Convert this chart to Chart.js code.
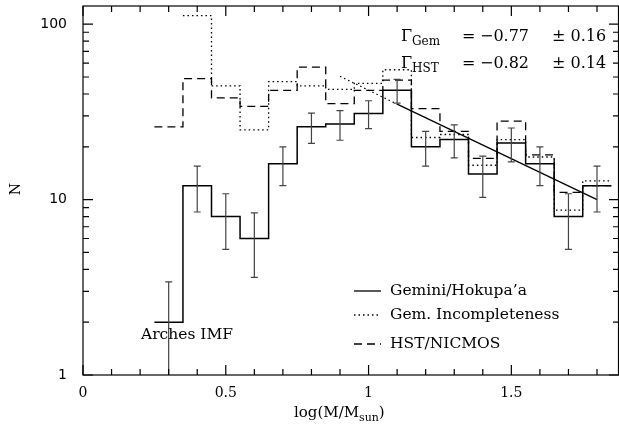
<!DOCTYPE html>
<html>
<head>
<meta charset="utf-8">
<script src="https://cdn.jsdelivr.net/npm/chart.js@4.4.1/dist/chart.umd.min.js"></script>
<style>
  html, body { margin: 0; padding: 0; background: #fff; }
  #wrap { width: 619px; height: 427px; }
</style>
</head>
<body>
<div id="wrap"><canvas id="imfChart" width="619" height="427"></canvas></div>
<script>
// histogram bins, log(M/Msun)
const binCenters = [0.3, 0.4, 0.5, 0.6, 0.7, 0.8, 0.9, 1.0, 1.1, 1.2, 1.3, 1.4, 1.5, 1.6, 1.7, 1.8];
const binWidth = 0.1;

// counts per bin
const gemini = [2, 12, 8, 6, 16, 26, 27, 31, 42, 20, 22, 14, 21, 16, 8, 12];
const geminiErr = [1.4, 3.5, 2.8, 2.4, 4.0, 5.1, 5.2, 5.6, 6.5, 4.5, 4.7, 3.7, 4.6, 4.0, 2.8, 3.5];
const incompleteness = [null, 112, 44.5, 25, 47, 44.5, 42.5, 46, 55, 22.6, 23.5, 15.7, 22, 17.5, 8.7, 12.8];
const hst = [26, 49, 38, 34, 42, 57, 35.3, 42, 48, 33, 24.5, 17.2, 28, 18, 11, 12];

// power-law fit
const fitX = [1.1, 1.8];
const fitY = [35, 10];
const fitExtX = [0.9, 1.1];
const fitExtY = [50.5, 35];

const xTicks = [0, 0.1, 0.2, 0.3, 0.4, 0.5, 0.6, 0.7, 0.8, 0.9, 1.0, 1.1, 1.2, 1.3, 1.4, 1.5, 1.6, 1.7, 1.8];
const xLabels = [0, 0.5, 1, 1.5];
const yTicks = [1, 2, 3, 4, 5, 6, 7, 8, 9, 10, 20, 30, 40, 50, 60, 70, 80, 90, 100];
const yLabels = [1, 10, 100];

const serif = '"DejaVu Serif", "Liberation Serif", serif';

function stepPoints(values) {
  const pts = [];
  let last = -1;
  values.forEach((v, i) => {
    if (v === null) return;
    pts.push({ x: +(binCenters[i] - binWidth / 2).toFixed(3), y: v });
    last = i;
  });
  pts.push({ x: +(binCenters[last] + binWidth / 2).toFixed(3), y: values[last] });
  return pts;
}

function isLabel(list, v) {
  return list.some(l => Math.abs(l - v) < 1e-6);
}

const decor = {
  id: 'decor',
  afterDatasetsDraw(chart) {
    const { ctx, chartArea: a, scales: { x, y } } = chart;
    ctx.save();

    // error bars
    ctx.strokeStyle = '#444';
    ctx.lineWidth = 1.2;
    binCenters.forEach((c, i) => {
      const px = x.getPixelForValue(c);
      const hi = y.getPixelForValue(gemini[i] + geminiErr[i]);
      const loVal = gemini[i] - geminiErr[i];
      const lo = loVal > y.min ? y.getPixelForValue(loVal) : a.bottom;
      ctx.beginPath();
      ctx.moveTo(px, hi); ctx.lineTo(px, lo);
      ctx.moveTo(px - 3.5, hi); ctx.lineTo(px + 3.5, hi);
      if (loVal > y.min) { ctx.moveTo(px - 3.5, lo); ctx.lineTo(px + 3.5, lo); }
      ctx.stroke();
    });

    // frame and inward ticks
    ctx.strokeStyle = '#000';
    ctx.lineWidth = 1.2;
    ctx.strokeRect(a.left, a.top, a.right - a.left - 0.5, a.bottom - a.top);
    ctx.beginPath();
    x.ticks.forEach(t => {
      const px = x.getPixelForValue(t.value);
      const len = isLabel(xLabels, t.value) ? 10 : 6;
      ctx.moveTo(px, a.bottom); ctx.lineTo(px, a.bottom - len);
      ctx.moveTo(px, a.top); ctx.lineTo(px, a.top + len);
    });
    y.ticks.forEach(t => {
      const py = y.getPixelForValue(t.value);
      const len = isLabel(yLabels, t.value) ? 10 : 6;
      ctx.moveTo(a.left, py); ctx.lineTo(a.left + len, py);
      ctx.moveTo(a.right, py); ctx.lineTo(a.right - len, py);
    });
    ctx.stroke();

    // fit coefficients
    ctx.fillStyle = '#000';
    ctx.textBaseline = 'alphabetic';
    ctx.textAlign = 'left';
    const rows = [['Gem', '\u22120.77', '\u00b1 0.16', 41], ['HST', '\u22120.82', '\u00b1 0.14', 67.5]];
    rows.forEach(r => {
      ctx.font = '16px ' + serif;
      ctx.fillText('\u0393', 401, r[3]);
      ctx.font = '12px ' + serif;
      ctx.fillText(r[0], 412, r[3] + 4);
      ctx.font = '16px ' + serif;
      ctx.fillText('=', 462, r[3]);
      ctx.fillText(r[1], 480, r[3]);
      ctx.fillText(r[2], 552, r[3]);
    });

    // legend
    const legend = [['Gemini/Hokupa\u2019a', [], 291], ['Gem. Incompleteness', [1.5, 3], 315], ['HST/NICMOS', [8, 5], 344]];
    ctx.lineWidth = 1.3;
    legend.forEach(l => {
      ctx.setLineDash(l[1]);
      ctx.beginPath();
      ctx.moveTo(354, l[2]); ctx.lineTo(381, l[2]);
      ctx.stroke();
    });
    ctx.setLineDash([]);
    ctx.font = '15.5px ' + serif;
    ctx.textBaseline = 'middle';
    legend.forEach(l => ctx.fillText(l[0], 390, l[2]));
    ctx.fillText('Arches IMF', 141, 335);

    // axis titles
    ctx.font = '15px ' + serif;
    ctx.textBaseline = 'alphabetic';
    let tx = 294;
    const ty = 417;
    ctx.fillText('log(M/M', tx, ty);
    tx += ctx.measureText('log(M/M').width;
    ctx.font = '11px ' + serif;
    ctx.fillText('sun', tx, ty + 4);
    tx += ctx.measureText('sun').width;
    ctx.font = '15px ' + serif;
    ctx.fillText(')', tx, ty);

    ctx.translate(16, 189);
    ctx.rotate(-Math.PI / 2);
    ctx.textAlign = 'center';
    ctx.textBaseline = 'middle';
    ctx.font = '14px ' + serif;
    ctx.fillText('N', 0, 0);
    ctx.restore();
  }
};

const ctx = document.getElementById('imfChart').getContext('2d');
new Chart(ctx, {
  type: 'scatter',
  data: {
    datasets: [
      { label: 'Gemini/Hokupa\u2019a', data: stepPoints(gemini), stepped: 'before',
        borderColor: '#000', borderWidth: 1.5 },
      { label: 'Gem. Incompleteness', data: stepPoints(incompleteness), stepped: 'before',
        borderColor: '#000', borderWidth: 1.3, borderDash: [1.5, 3] },
      { label: 'HST/NICMOS', data: stepPoints(hst), stepped: 'before',
        borderColor: '#000', borderWidth: 1.3, borderDash: [8, 5] },
      { label: 'fit', data: fitX.map((v, i) => ({ x: v, y: fitY[i] })),
        borderColor: '#000', borderWidth: 1.3 },
      { label: 'fit ext', data: fitExtX.map((v, i) => ({ x: v, y: fitExtY[i] })),
        borderColor: '#000', borderWidth: 1.2, borderDash: [1.5, 3] }
    ].map(d => Object.assign({ showLine: true, pointRadius: 0, fill: false }, d))
  },
  options: {
    responsive: false,
    animation: false,
    devicePixelRatio: 1,
    layout: { padding: { top: 6, right: 0, bottom: 0, left: 0 } },
    plugins: { legend: { display: false }, tooltip: { enabled: false } },
    scales: {
      x: {
        type: 'linear', min: 0, max: 1.877,
        grid: { display: false }, border: { display: false },
        afterBuildTicks: s => { s.ticks = xTicks.map(v => ({ value: v })); },
        afterFit: s => { s.height = 52; s.paddingLeft = 0; s.paddingRight = 0; },
        ticks: {
          autoSkip: false, maxRotation: 0, padding: 2, color: '#000',
          font: { family: serif, size: 14 },
          callback: v => isLabel(xLabels, v) ? String(+v.toFixed(1)) : ''
        }
      },
      y: {
        type: 'logarithmic', min: 1, max: 127,
        grid: { display: false }, border: { display: false },
        afterBuildTicks: s => { s.ticks = yTicks.map(v => ({ value: v })); },
        afterFit: s => { s.width = 83; s.paddingTop = 0; s.paddingBottom = 0; },
        ticks: {
          autoSkip: false, padding: 8, color: '#000',
          font: { family: '"DejaVu Sans", sans-serif', size: 14 },
          callback: v => isLabel(yLabels, v) ? String(v) : ''
        }
      }
    }
  },
  plugins: [decor]
});
</script>
</body>
</html>
